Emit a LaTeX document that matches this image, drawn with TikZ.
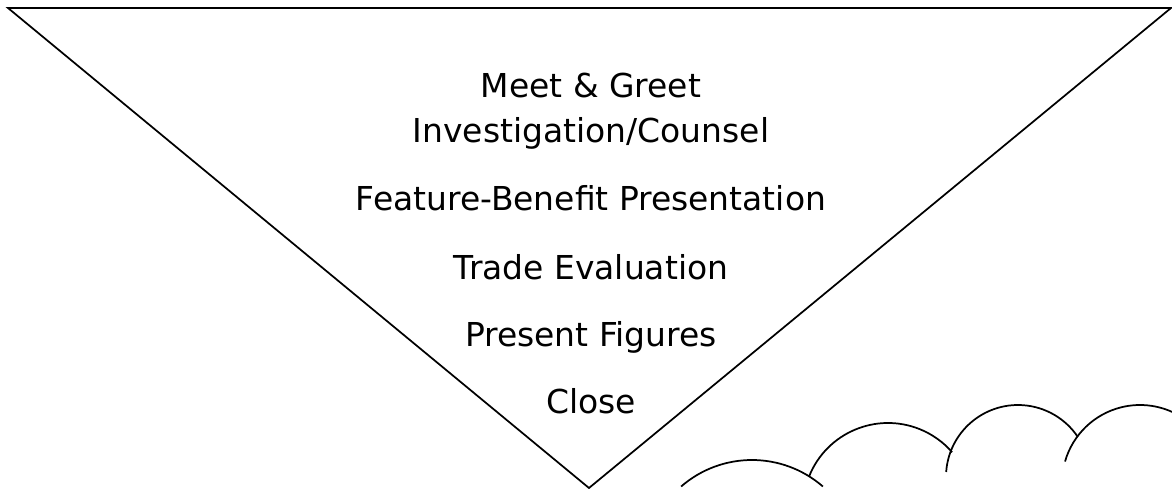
\documentclass[tikz,border=0pt]{standalone}
\usepackage{fontspec}
\setmainfont{DejaVu Sans}
\tikzset{
  stage/.style={anchor=base, inner sep=0pt, font=\fontsize{24.7}{29}\selectfont},
  edge/.style={line width=1.3pt, line join=miter},
}
\begin{document}
\begin{tikzpicture}[x=0.75pt, y=-0.75pt]
      \useasboundingbox (0,0) rectangle (1172,489);
      \coordinate (tl) at (8,8);
      \coordinate (tr) at (1171,8);
      \coordinate (tip) at (589,488);
      \draw
        (591,97) node[stage] (meet){Meet \& Greet}
        (591,142) node[stage] (invest){Investigation/Counsel}
        (591,210) node[stage] (feature){Feature-Benefit Presentation}
        (591,279) node[stage] (trade){Trade Evaluation}
        (591,346) node[stage] (figures){Present Figures}
        (591,413) node[stage] (close){Close};
      \begin{scope}[edge]
        \draw (tl) -- (tr) -- (tip) -- cycle;
        % cloud
        \draw (752,568) ++(-131:108) arc[start angle=-131, end angle=-49, radius=108];
        \draw (888,508) ++(-158:85) arc[start angle=-158, end angle=-41, radius=85];
        \draw (1018,477) ++(-176:72) arc[start angle=-176, end angle=-34, radius=72];
        \draw (1140,483) ++(-164:78) arc[start angle=-164, end angle=-60, radius=78];
      \end{scope}
    \end{tikzpicture}
\end{document}
